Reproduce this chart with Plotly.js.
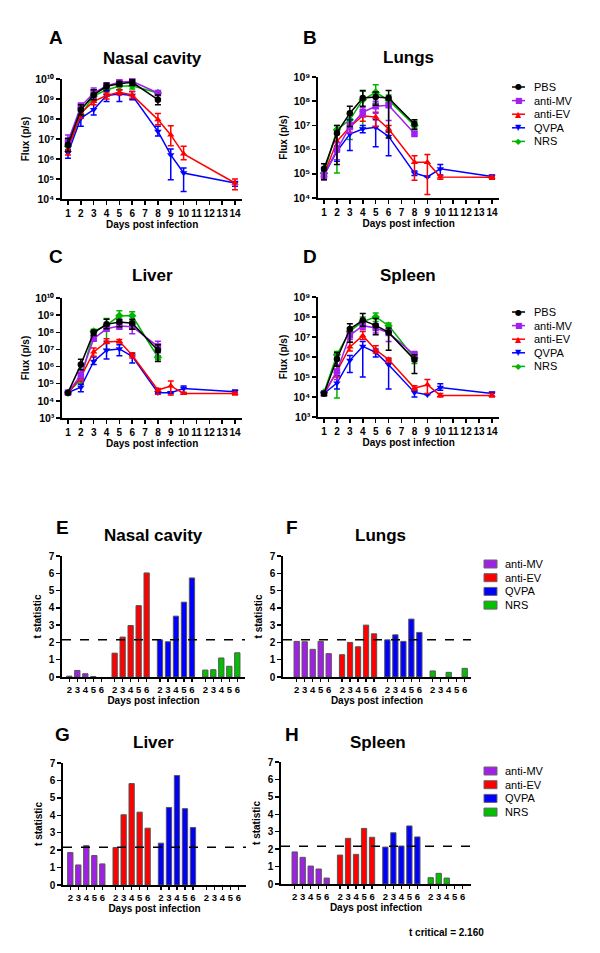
<!DOCTYPE html>
<html><head><meta charset="utf-8">
<script src="https://cdn.plot.ly/plotly-3.0.1.min.js"></script>
<style>html,body{margin:0;padding:0;background:#fff;} #chart{width:600px;height:953px;}</style>
</head><body><div id="chart"></div>
<script>
// ---------- DATA ----------
const daysLong = [1,2,3,4,5,6,8,9,10,14];   // anti-EV, QVPA
const daysShort = [1,2,3,4,5,6,8];          // PBS, anti-MV, NRS
const dayTicks = [1,2,3,4,5,6,7,8,9,10,11,12,13,14];
const fluxExponents = [3,4,5,6,7,8,9,10];
const groupNames = ['PBS','anti-MV','anti-EV','QVPA','NRS'];
const barGroupNames = ['anti-MV','anti-EV','QVPA','NRS'];
const barDays = [2,3,4,5,6];
const tCritical = 2.160;

// Nasal cavity (A)
const nasalPBS    = [5.2e6, 2.9e8, 1.6e9, 4.3e9, 5.8e9, 6.8e9, 9.3e8];
const nasalPBSHi  = [1.1e7, 5.2e8, 2.9e9, 6.3e9, 7.6e9, 9.3e9, 1.6e9];
const nasalPBSLo  = [2.4e6, 1.6e8, 9.3e8, 2.7e9, 4.3e9, 4.8e9, 5.2e8];
const nasalMV     = [7.6e6, 4.3e8, 2.0e9, 4.6e9, 6.8e9, 7.6e9, 2.0e9];
const nasalMVHi   = [1.6e7, 6.3e8, 3.5e9, 5.6e9, 8.6e9, 9.3e9, 2.4e9];
const nasalMVLo   = [4.3e6, 2.7e8, 1.1e9, 3.5e9, 5.2e9, 5.8e9, 1.6e9];
const nasalEV     = [2.9e6, 2.0e8, 7.6e8, 1.5e9, 2.2e9, 1.6e9, 9.3e7, 1.6e7, 1.8e6, 6.3e4];
const nasalEVHi   = [4.3e6, 3.5e8, 1.1e9, 2.0e9, 2.9e9, 2.4e9, 1.9e8, 4.6e7, 4.3e6, 1.0e5];
const nasalEVLo   = [1.6e6, 1.1e8, 5.2e8, 1.0e9, 1.6e9, 1.1e9, 5.2e7, 4.6e6, 9.3e5, 2.9e4];
const nasalQV     = [2.0e6, 1.1e8, 2.9e8, 1.5e9, 1.8e9, 1.5e9, 2.4e7, 1.6e6, 2.0e5, 6.3e4];
const nasalQVHi   = [2.9e6, 2.4e8, 2.9e9, 2.4e9, 2.9e9, 2.4e9, 4.3e7, 3.2e6, 3.5e5, 7.6e4];
const nasalQVLo   = [1.1e6, 4.3e7, 1.6e8, 7.6e8, 7.6e8, 9.3e8, 1.4e7, 9.3e4, 2.4e4, 4.3e4];
const nasalNRS    = [4.3e6, 1.6e8, 1.4e9, 2.9e9, 4.3e9, 4.6e9, 2.0e9];
const nasalNRSHi  = [7.6e6, 3.5e8, 2.0e9, 4.3e9, 6.3e9, 6.3e9, 2.4e9];
const nasalNRSLo  = [2.9e6, 1.1e8, 7.6e8, 1.6e9, 2.9e9, 3.2e9, 1.5e9];

// Lungs (B)
const lungPBS     = [1.6e5, 4.9e6, 3.2e7, 1.35e8, 1.5e8, 1.35e8, 1.15e7];
const lungPBSHi   = [2.6e5, 9.8e6, 6.2e7, 2.8e8, 2.4e8, 2.8e8, 1.7e7];
const lungPBSLo   = [5.7e4, 2.4e5, 9.1e6, 6.2e7, 6.8e7, 3.0e6, 7.0e6];
const lungMV      = [8.3e4, 1.0e6, 8.6e6, 3.5e7, 6.2e7, 6.8e7, 4.6e6];
const lungMVHi    = [1.3e5, 1.9e6, 1.25e7, 5.3e7, 1.0e8, 1.15e8, 5.6e6];
const lungMVLo    = [5.7e4, 3.8e5, 4.9e6, 2.3e7, 3.2e7, 1.6e7, 3.5e6];
const lungEV      = [9.1e4, 2.2e6, 8.6e6, 2.5e7, 2.2e7, 7.1e6, 3.0e5, 3.0e5, 7.4e4, 7.2e4];
const lungEVHi    = [1.4e5, 4.2e6, 1.25e7, 3.8e7, 3.5e7, 1.0e7, 5.6e5, 6.2e5, 8.5e4, 8.0e4];
const lungEVLo    = [6.0e4, 8.5e5, 5.2e6, 1.5e7, 9.1e6, 5.2e6, 5.4e4, 1.4e4, 6.0e4, 6.0e4];
const lungQV      = [9.1e4, 8.5e5, 4.4e6, 7.1e6, 8.3e6, 3.5e6, 1.07e5, 7.4e4, 1.6e5, 7.8e4];
const lungQVHi    = [1.3e5, 1.4e6, 1.7e7, 1.0e7, 1.7e7, 5.6e6, 1.3e5, 7.4e4, 2.4e5, 9.0e4];
const lungQVLo    = [6.5e4, 3.3e5, 9.1e5, 5.0e6, 1.3e6, 5.6e5, 8.5e4, 7.4e4, 9.0e4, 6.5e4];
const lungNRS     = [1.07e5, 6.6e6, 1.7e7, 1.15e8, 2.3e8, 1.1e8, 1.0e7];
const lungNRSHi   = [1.5e5, 1.0e7, 2.8e7, 2.6e8, 4.8e8, 1.8e8, 1.5e7];
const lungNRSLo   = [7.8e4, 1.07e5, 2.6e6, 7.9e6, 8.5e7, 6.2e7, 7.9e6];

// Liver (C)
const liverPBS    = [3.0e4, 1.3e6, 9.6e7, 2.9e8, 4.0e8, 3.4e8, 9.0e6];
const liverPBSHi  = [3.4e4, 2.7e6, 1.3e8, 5.8e8, 5.8e8, 5.8e8, 1.9e7];
const liverPBSLo  = [2.7e4, 6.5e5, 6.6e7, 1.6e8, 2.1e8, 1.5e8, 2.0e6];
const liverMV     = [3.0e4, 3.3e5, 4.2e7, 1.6e8, 2.3e8, 2.1e8, 1.5e7];
const liverMVHi   = [3.4e4, 6.5e5, 6.6e7, 2.5e8, 3.5e8, 3.5e8, 3.0e7];
const liverMVLo   = [2.7e4, 1.7e5, 3.0e7, 1.2e8, 1.5e8, 8.3e7, 6.3e6];
const liverEV     = [2.7e4, 2.4e5, 7.1e6, 2.7e7, 3.0e7, 4.6e6, 4.3e4, 7.4e4, 2.7e4, 2.7e4];
const liverEVHi   = [3.0e4, 4.5e5, 1.2e7, 4.2e7, 3.8e7, 6.3e6, 5.3e4, 1.45e5, 3.2e4, 3.2e4];
const liverEVLo   = [2.4e4, 1.3e5, 4.0e6, 2.2e7, 2.4e7, 3.2e6, 2.4e4, 2.2e4, 2.4e4, 2.2e4];
const liverQV     = [3.0e4, 6.2e4, 2.0e6, 9.0e6, 1.07e7, 4.0e6, 3.0e4, 3.0e4, 5.3e4, 3.4e4];
const liverQVHi   = [3.4e4, 9.0e4, 3.6e6, 3.0e7, 1.9e7, 5.7e6, 3.4e4, 3.4e4, 7.4e4, 4.3e4];
const liverQVLo   = [2.7e4, 3.4e4, 1.3e6, 2.8e6, 4.3e6, 1.6e6, 2.7e4, 2.7e4, 3.0e4, 3.0e4];
const liverNRS    = [3.0e4, 1.8e5, 1.1e8, 2.6e8, 9.1e8, 9.1e8, 3.5e6];
const liverNRSHi  = [3.4e4, 3.3e5, 1.5e8, 6.3e8, 1.8e9, 1.6e9, 4.3e6];
const liverNRSLo  = [2.7e4, 1.0e5, 7.0e7, 1.0e7, 5.3e8, 4.6e8, 2.5e6];

// Spleen (D)
const spleenPBS   = [1.5e4, 7.9e5, 2.5e7, 6.8e7, 3.8e7, 1.7e7, 7.4e5];
const spleenPBSHi = [1.8e4, 1.7e6, 4.6e7, 1.5e8, 8.3e7, 2.8e7, 1.3e6];
const spleenPBSLo = [1.2e4, 3.4e5, 5.4e6, 3.4e7, 1.3e7, 2.2e6, 1.5e5];
const spleenMV    = [1.5e4, 1.9e5, 1.2e7, 3.7e7, 2.8e7, 1.6e7, 1.3e6];
const spleenMVHi  = [1.8e4, 4.1e5, 1.9e7, 5.4e7, 4.6e7, 2.3e7, 1.9e6];
const spleenMVLo  = [1.2e4, 7.4e4, 7.4e6, 2.3e7, 1.6e7, 6.0e6, 6.0e5];
const spleenEV    = [1.35e4, 1.9e5, 3.2e6, 1.17e7, 2.3e6, 7.4e5, 2.8e4, 4.1e4, 1.2e4, 1.2e4];
const spleenEVHi  = [1.6e4, 3.7e5, 5.4e6, 1.9e7, 3.7e6, 9.0e5, 3.7e4, 7.4e4, 1.5e4, 1.5e4];
const spleenEVLo  = [1.2e4, 1.0e5, 2.0e6, 7.4e6, 1.6e6, 5.4e5, 2.2e4, 1.5e4, 1.0e4, 1.0e4];
const spleenQV    = [1.5e4, 5.0e4, 6.8e5, 3.4e6, 1.7e6, 4.1e5, 1.7e4, 1.3e4, 3.0e4, 1.5e4];
const spleenQVHi  = [1.8e4, 1.17e5, 1.2e6, 6.0e6, 2.5e6, 8.0e5, 2.2e4, 1.3e4, 4.6e4, 1.8e4];
const spleenQVLo  = [1.2e4, 2.5e4, 1.7e5, 1.0e5, 1.0e6, 2.5e4, 1.0e4, 1.3e4, 2.2e4, 1.1e4];
const spleenNRS   = [1.7e4, 1.3e6, 1.9e7, 6.0e7, 1.0e8, 3.7e7, 8.9e5];
const spleenNRSHi = [2.0e4, 1.9e6, 2.8e7, 1.0e8, 1.6e8, 5.0e7, 1.6e6];
const spleenNRSLo = [1.4e4, 8.9e3, 1.2e7, 3.7e7, 6.0e7, 2.5e7, 4.8e5];

// t statistics (E-H), days 2..6 per group
const tNasalMV  = [0.05, 0.38, 0.19, 0.03, null];
const tNasalEV  = [1.38, 2.31, 2.98, 4.13, 6.02];
const tNasalQV  = [2.15, 2.04, 3.52, 4.33, 5.73];
const tNasalNRS = [0.40, 0.42, 1.10, 0.62, 1.40];
const tLungMV   = [2.06, 2.04, 1.60, 2.06, 1.35];
const tLungEV   = [1.29, 2.00, 1.75, 3.00, 2.50];
const tLungQV   = [2.15, 2.44, 2.06, 3.35, 2.58];
const tLungNRS  = [0.35, null, 0.27, null, 0.50];
const tLiverMV  = [1.86, 1.15, 2.26, 1.69, 1.21];
const tLiverEV  = [2.15, 4.03, 5.82, 4.18, 3.26];
const tLiverQV  = [2.40, 4.45, 6.28, 4.38, 3.30];
const tLiverNRS = [null, null, null, null, null];
const tSpleenMV  = [1.84, 1.53, 1.03, 0.86, 0.34];
const tSpleenEV  = [1.66, 2.62, 1.70, 3.19, 2.68];
const tSpleenQV  = [2.12, 2.94, 2.18, 3.33, 2.70];
const tSpleenNRS = [0.36, 0.61, 0.34, null, null];

// ---------- STYLE ----------
const FONT = 'Liberation Sans, Arial, Helvetica, sans-serif';
const W = 600, H = 953;
const lineColors = {'PBS':'#000000','anti-MV':'#A020F0','anti-EV':'#FF0000','QVPA':'#0000FF','NRS':'#00B400'};
const barColors  = {'anti-MV':'#A020E8','anti-EV':'#FF0000','QVPA':'#0000FF','NRS':'#00C000'};
const symbols = {'PBS':'circle','anti-MV':'square','anti-EV':'triangle-up','QVPA':'triangle-down','NRS':'diamond'};
const glyphs  = {'PBS':'●','anti-MV':'■','anti-EV':'▲','QVPA':'▼','NRS':'◆'};
const SUP = {'0':'⁰','1':'¹','2':'²','3':'³','4':'⁴','5':'⁵','6':'⁶','7':'⁷','8':'⁸','9':'⁹'};
const GROUP_STEP = 5.667;

const px = x => x / W;
const py = y => 1 - y / H;

const traces = [];
function addLines(ax, sets) {
  sets.slice().reverse().forEach(s => {
    const c = lineColors[s.name];
    traces.push({
      type:'scatter', mode:'lines+markers', name:s.name,
      x:s.x, y:s.y, xaxis:'x'+ax, yaxis:'y'+ax,
      line:{color:c, width:1.5},
      marker:{symbol:symbols[s.name], size:6.5, color:c},
      error_y:{type:'data', symmetric:false,
        array:s.hi.map((h,i)=>Math.max(h - s.y[i],0)),
        arrayminus:s.lo.map((l,i)=>Math.max(s.y[i] - l,0)),
        color:c, thickness:1.5, width:3},
      showlegend:false, cliponaxis:false, hoverinfo:'skip'
    });
  });
}
addLines('', [
  {name:'PBS', x:daysShort, y:nasalPBS, hi:nasalPBSHi, lo:nasalPBSLo},
  {name:'anti-MV', x:daysShort, y:nasalMV, hi:nasalMVHi, lo:nasalMVLo},
  {name:'anti-EV', x:daysLong, y:nasalEV, hi:nasalEVHi, lo:nasalEVLo},
  {name:'QVPA', x:daysLong, y:nasalQV, hi:nasalQVHi, lo:nasalQVLo},
  {name:'NRS', x:daysShort, y:nasalNRS, hi:nasalNRSHi, lo:nasalNRSLo}]);
addLines('2', [
  {name:'PBS', x:daysShort, y:lungPBS, hi:lungPBSHi, lo:lungPBSLo},
  {name:'anti-MV', x:daysShort, y:lungMV, hi:lungMVHi, lo:lungMVLo},
  {name:'anti-EV', x:daysLong, y:lungEV, hi:lungEVHi, lo:lungEVLo},
  {name:'QVPA', x:daysLong, y:lungQV, hi:lungQVHi, lo:lungQVLo},
  {name:'NRS', x:daysShort, y:lungNRS, hi:lungNRSHi, lo:lungNRSLo}]);
addLines('3', [
  {name:'PBS', x:daysShort, y:liverPBS, hi:liverPBSHi, lo:liverPBSLo},
  {name:'anti-MV', x:daysShort, y:liverMV, hi:liverMVHi, lo:liverMVLo},
  {name:'anti-EV', x:daysLong, y:liverEV, hi:liverEVHi, lo:liverEVLo},
  {name:'QVPA', x:daysLong, y:liverQV, hi:liverQVHi, lo:liverQVLo},
  {name:'NRS', x:daysShort, y:liverNRS, hi:liverNRSHi, lo:liverNRSLo}]);
addLines('4', [
  {name:'PBS', x:daysShort, y:spleenPBS, hi:spleenPBSHi, lo:spleenPBSLo},
  {name:'anti-MV', x:daysShort, y:spleenMV, hi:spleenMVHi, lo:spleenMVLo},
  {name:'anti-EV', x:daysLong, y:spleenEV, hi:spleenEVHi, lo:spleenEVLo},
  {name:'QVPA', x:daysLong, y:spleenQV, hi:spleenQVHi, lo:spleenQVLo},
  {name:'NRS', x:daysShort, y:spleenNRS, hi:spleenNRSHi, lo:spleenNRSLo}]);

const barPos = (g, i) => g * GROUP_STEP + i;
function addBars(ax, sets) {
  sets.forEach((vals, g) => {
    const name = barGroupNames[g];
    traces.push({
      type:'bar', name:name, x:barDays.map((d,i)=>barPos(g,i)), y:vals,
      xaxis:'x'+ax, yaxis:'y'+ax, width:0.66,
      marker:{color:barColors[name], line:{color:'#555555', width:1}},
      showlegend:false, hoverinfo:'skip'
    });
  });
}
addBars('5', [tNasalMV, tNasalEV, tNasalQV, tNasalNRS]);
addBars('6', [tLungMV, tLungEV, tLungQV, tLungNRS]);
addBars('7', [tLiverMV, tLiverEV, tLiverQV, tLiverNRS]);
addBars('8', [tSpleenMV, tSpleenEV, tSpleenQV, tSpleenNRS]);

// ---------- AXES ----------
const tickFont = {family:FONT, size:10, color:'#000', weight:'bold'};
const titleFont = {family:FONT, size:10, color:'#000', weight:'bold'};
const baseAx = {showline:true, linecolor:'#000', linewidth:1.8, ticks:'outside', ticklen:4,
  tickwidth:1.5, tickcolor:'#000', showgrid:false, zeroline:false, tickfont:tickFont,
  fixedrange:true, tickangle:0, automargin:false};

function dayAxis(t1, t14, anchor) {
  const s = (t14 - t1) / 13;
  return Object.assign({}, baseAx, {
    domain:[px(t1 - 0.45*s), px(t14 + 0.55*s)], range:[0.55, 14.55], anchor:anchor,
    tickmode:'array', tickvals:dayTicks, ticktext:dayTicks.map(String),
    title:{text:'Days post infection', font:titleFont, standoff:3}
  });
}
function fluxAxis(top, bottom, lo, hi, anchor) {
  const ex = fluxExponents.filter(e => e >= lo && e <= hi);
  return Object.assign({}, baseAx, {
    type:'log', domain:[py(bottom), py(top)], range:[lo, hi], anchor:anchor,
    tickmode:'array', tickvals:ex.map(e => Math.pow(10,e)),
    ticktext:ex.map(e => '10' + String(e).split('').map(c => SUP[c]).join('')),
    tickfont:{family:FONT, size:10.5, color:'#000', weight:'bold'},
    title:{text:'Flux (p/s)', font:titleFont, standoff:4}
  });
}
function barXAxis(left, right, firstBar, anchor) {
  const s = 8;
  const vals = [], txt = [];
  barGroupNames.forEach((n,g) => barDays.forEach((d,i) => { vals.push(barPos(g,i)); txt.push(String(d)); }));
  return Object.assign({}, baseAx, {
    domain:[px(left), px(right)], range:[(left-firstBar)/s, (right-firstBar)/s], anchor:anchor,
    tickmode:'array', tickvals:vals, ticktext:txt, ticklen:3,
    tickfont:{family:FONT, size:9.5, color:'#000', weight:'bold'},
    title:{text:'Days post infection', font:titleFont, standoff:2}
  });
}
function tAxis(top, bottom, anchor) {
  return Object.assign({}, baseAx, {
    domain:[py(bottom), py(top)], range:[0,7], anchor:anchor, tickmode:'linear', tick0:0, dtick:1,
    title:{text:'t statistic', font:titleFont, standoff:5}
  });
}

const layout = {
  width:W, height:H, margin:{l:0,r:0,t:0,b:0}, paper_bgcolor:'#fff', plot_bgcolor:'rgba(0,0,0,0)',
  showlegend:false, barmode:'overlay', hovermode:false, font:{family:FONT, color:'#000'},
  xaxis:  dayAxis(68, 235, 'y'),
  yaxis:  fluxAxis(79, 199, 4, 10, 'x'),
  xaxis2: dayAxis(324, 492, 'y2'),
  yaxis2: fluxAxis(77, 198, 4, 9, 'x2'),
  xaxis3: dayAxis(68, 235, 'y3'),
  yaxis3: fluxAxis(298, 418, 3, 10, 'x3'),
  xaxis4: dayAxis(324, 492, 'y4'),
  yaxis4: fluxAxis(297, 417, 3, 9, 'x4'),
  xaxis5: barXAxis(62, 245, 69.3, 'y5'),
  yaxis5: tAxis(556, 677, 'x5'),
  xaxis6: barXAxis(283, 471, 296.7, 'y6'),
  yaxis6: tAxis(556, 677, 'x6'),
  xaxis7: barXAxis(63, 246, 70.3, 'y7'),
  yaxis7: tAxis(763, 885, 'x7'),
  xaxis8: barXAxis(281, 471, 294.7, 'y8'),
  yaxis8: tAxis(762, 884, 'x8'),
  shapes:[], annotations:[]
};

['5','6','7','8'].forEach(a => layout.shapes.push({type:'line', xref:'x'+a+' domain', yref:'y'+a,
  x0:0, x1:1, y0:tCritical, y1:tCritical, line:{color:'#000', width:1.5, dash:'dash'}}));

function ann(text, x, y, size, bold, anchor) {
  layout.annotations.push({text:text, xref:'paper', yref:'paper', x:px(x), y:py(y),
    xanchor:anchor||'center', yanchor:'middle', showarrow:false,
    font:{family:FONT, size:size, color:'#000', weight: bold ? 'bold' : 'normal'}});
}
[['A',56,38],['B',310,38],['C',56,256],['D',310,256],['E',62,527],['F',292,527],['G',62,734],['H',292,734]]
  .forEach(l => ann(l[0], l[1], l[2], 19, true));
[['Nasal cavity',152,58],['Lungs',408,57],['Liver',152,275],['Spleen',408,275],
 ['Nasal cavity',153,535],['Lungs',380,535],['Liver',153,742],['Spleen',378,742]]
  .forEach(t => ann(t[0], t[1], t[2], 17, true));
ann('t critical = 2.160', 446, 932, 10, true);

function lineLegend(x0, y0, step) {
  groupNames.forEach((n,i) => {
    const y = y0 + i*step;
    layout.shapes.push({type:'line', xref:'paper', yref:'paper', x0:px(x0), x1:px(x0+13), y0:py(y), y1:py(y),
      line:{color:lineColors[n], width:1.5}});
    layout.annotations.push({text:glyphs[n], xref:'paper', yref:'paper', x:px(x0+6.5), y:py(y),
      xanchor:'center', yanchor:'middle', showarrow:false, font:{family:'DejaVu Sans', size:8, color:lineColors[n]}});
    ann(n, x0+20, y, 11, false, 'left');
  });
}
function barLegend(x0, y0, step) {
  barGroupNames.forEach((n,i) => {
    const y = y0 + i*step;
    layout.shapes.push({type:'rect', xref:'paper', yref:'paper', x0:px(x0), x1:px(x0+13), y0:py(y+4), y1:py(y-4),
      fillcolor:barColors[n], line:{color:'#666', width:1}});
    ann(n, x0+19, y, 11, false, 'left');
  });
}
lineLegend(512, 87, 13.6);
lineLegend(512, 312, 13.6);
barLegend(484, 564, 13.7);
barLegend(484, 771, 13.7);

Plotly.newPlot('chart', traces, layout, {staticPlot:true, displayModeBar:false});
</script>
</body></html>
